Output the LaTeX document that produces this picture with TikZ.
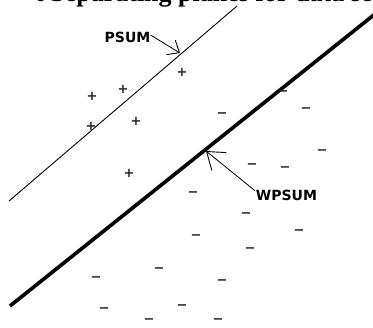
\documentclass[tikz,border=0pt]{standalone}
\usepackage{fontspec}
\setmainfont{Liberation Serif}
\newfontfamily\lblfont{DejaVu Sans}
\usetikzlibrary{arrows.meta}
\tikzset{
  mk/.style={font=\lblfont\bfseries\fontsize{13}{13}\selectfont, text=black!85, anchor=base, yshift=-3.8pt, inner sep=0pt},
  lbl/.style={font=\lblfont\bfseries\fontsize{14}{14}\selectfont, inner sep=0pt},
  thinplane/.style={line width=0.9pt},
  thickplane/.style={line width=3.6pt},
  arrP/.style={line width=0.8pt, -{Straight Barb[length=10pt, width=17pt, line width=0.9pt]}},
  arrW/.style={line width=0.8pt, -{Straight Barb[length=16pt, width=23pt, line width=0.9pt]}},
}
\begin{document}
\begin{tikzpicture}[x=1pt,y=-1pt]
\useasboundingbox (0,0) rectangle (373,328);
\clip (0,0) rectangle (373,328);
\fill[white] (0,0) rectangle (373,328);
% title (cut at the top)
\node[anchor=base west, inner sep=0pt, font=\bfseries\fontsize{26}{26}\selectfont] (title) at (35,1.5) {t Separating planes for data set};
% planes
\coordinate (t1) at (9,201);
\coordinate (t2) at (237,6);
\draw[thinplane] (t1) -- (t2);
\coordinate (w1) at (10,306);
\coordinate (w2) at (390,2);
\draw[thickplane] (w1) -- (w2);
% labels and arrows
\node[lbl] (psum) at (127.5,37) {PSUM};
\coordinate (ptip) at (180,53);
\draw[arrP] ([yshift=2pt]psum.east) -- (ptip);
\node[lbl] (wpsum) at (286.5,195) {WPSUM};
\coordinate (wtip) at (206,151);
\draw[arrW] ([xshift=-1pt,yshift=-1pt]wpsum.north west) -- (wtip);
% plus marks
\node[mk] (p1) at (92,97) {+};
\node[mk] (p2) at (123,90) {+};
\node[mk] (p3) at (182,73) {+};
\node[mk] (p4) at (136,122) {+};
\node[mk] (p5) at (91,127) {+};
\node[mk] (p6) at (129,174) {+};
% minus marks
\node[mk] (m1) at (222,114) {−};
\node[mk] (m2) at (283,92) {−};
\node[mk] (m3) at (306,109) {−};
\node[mk] (m4) at (322,151) {−};
\node[mk] (m5) at (252,165) {−};
\node[mk] (m6) at (285,168) {−};
\node[mk] (m7) at (193,193) {−};
\node[mk] (m8) at (246,214) {−};
\node[mk] (m9) at (299,231) {−};
\node[mk] (m10) at (196,236) {−};
\node[mk] (m11) at (250,249) {−};
\node[mk] (m12) at (159,269) {−};
\node[mk] (m13) at (96,278) {−};
\node[mk] (m14) at (222,281) {−};
\node[mk] (m15) at (182,306) {−};
\node[mk] (m16) at (104,309) {−};
\node[mk] (m17) at (149,320) {−};
\node[mk] (m18) at (218,320) {−};
\end{tikzpicture}
\end{document}
